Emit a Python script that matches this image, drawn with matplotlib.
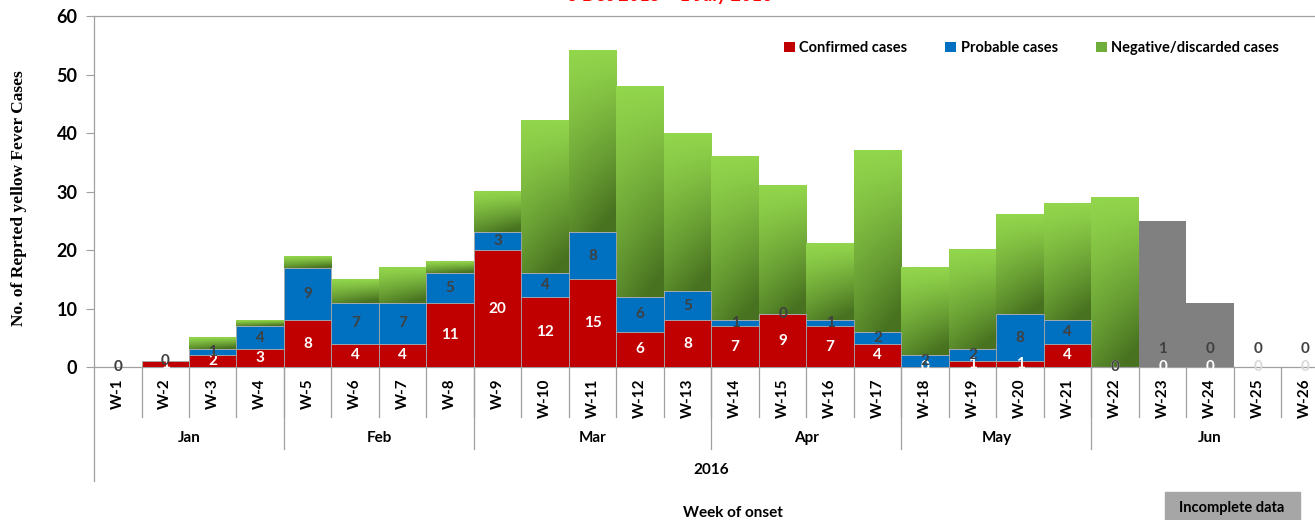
import matplotlib
matplotlib.use("Agg")
import matplotlib.pyplot as plt
import matplotlib.transforms as mtransforms
from matplotlib.patches import Patch, Rectangle
import numpy as np

# ---------------------------------------------------------
# Data
# ---------------------------------------------------------
weeks = [f"W-{i}" for i in range(1, 27)]
confirmed = [0, 1, 2, 3, 8, 4, 4, 11, 20, 12, 15, 6, 8, 7, 9, 7, 4, 0, 1, 1, 4, 0, 0, 0, 0, 0]
probable = [0, 0, 1, 4, 9, 7, 7, 5, 3, 4, 8, 6, 5, 1, 0, 1, 2, 2, 2, 8, 4, 0, 1, 0, 0, 0]
negative = [0, 0, 2, 1, 2, 4, 6, 2, 7, 26, 31, 36, 27, 28, 22, 13, 31, 15, 17, 17, 20, 29, 0, 0, 0, 0]
incomplete = [0] * 22 + [25, 11, 0, 0]   # grey "Incomplete data" bars

months = ["Jan", "Feb", "Mar", "Apr", "May", "Jun"]
weeks_per_month = [4, 4, 5, 4, 4, 5]
year_label = "2016"

title = "3 Dec 2015 \u2013 1 July 2016"

RED = "#C00000"
BLUE = "#0070C0"
GREY = "#808080"
GREEN_LIGHT = np.array([146, 214, 76]) / 255
GREEN_DARK = np.array([72, 114, 32]) / 255
EDGE = "#A6A6A6"
AXIS = "#A0A0A0"

plt.rcParams["font.family"] = ["Lato", "DejaVu Sans"]
plt.rcParams["font.weight"] = "bold"


def gradient_fill(ax, patch):
    # light green top-left -> dark green bottom-right, like the Excel fill
    x, y = patch.get_x(), patch.get_y()
    w, h = patch.get_width(), patch.get_height()
    if h <= 0:
        return
    v = np.linspace(0, 1, 120)[:, None]
    u = np.linspace(0, 1, 30)[None, :]
    t = np.clip(0.75 * v ** 1.2 + 0.4 * u * v, 0, 1)
    img = GREEN_LIGHT[None, None, :] * (1 - t[..., None]) + GREEN_DARK[None, None, :] * t[..., None]
    ax.imshow(img, extent=[x, x + w, y, y + h], origin="upper",
              aspect="auto", zorder=2, interpolation="bilinear")


fig = plt.figure(figsize=(13.15, 5.2), dpi=100)
ax = fig.add_axes([0.0715, 0.2942, 0.939, 0.675])

x = np.arange(len(weeks))
conf = np.array(confirmed)
prob = np.array(probable)
neg = np.array(negative)
inc = np.array(incomplete)

ax.bar(x, conf, width=1.0, color=RED, edgecolor=EDGE, linewidth=0.6, zorder=3)
ax.bar(x, prob, width=1.0, bottom=conf, color=BLUE, edgecolor=EDGE, linewidth=0.6, zorder=3)
green = ax.bar(x, neg, width=1.0, bottom=conf + prob, color="none", edgecolor="none", zorder=2)
for p in green:
    gradient_fill(ax, p)
ax.bar(x, inc, width=1.0, color=GREY, edgecolor="none", zorder=4)

# data labels
for i in range(len(weeks)):
    no_bar = (conf[i] + prob[i] + neg[i] + inc[i]) == 0
    c_col = "#D9D9D9" if no_bar else "white"
    late = inc[i] > 0 or (no_bar and i > 20)
    c_y = conf[i] / 2 if conf[i] > 0 else 0
    ax.text(i, c_y, str(conf[i]), ha="center", va="center", color=c_col,
            fontsize=11, fontweight="bold", zorder=6)
    p_y = 3 if late else conf[i] + prob[i] / 2
    ax.text(i, p_y, str(prob[i]), ha="center", va="center", color="#404040",
            fontsize=11, fontweight="bold", zorder=7)

ax.set_xlim(-0.5, len(weeks) - 0.5)
ax.set_ylim(0, 60)
ax.set_yticks(range(0, 61, 10))
ax.tick_params(axis="y", labelsize=13, length=6, color=AXIS, width=0.8, pad=6)
for lbl in ax.get_yticklabels():
    lbl.set_fontweight("bold")
ax.set_xticks(x)
ax.set_xticklabels(weeks, rotation=90, fontsize=11, fontweight="bold")
ax.tick_params(axis="x", length=0, pad=8)

for side in ["left", "bottom", "top"]:
    ax.spines[side].set_color(AXIS)
    ax.spines[side].set_linewidth(0.9)
ax.spines["right"].set_visible(False)

# multi-level category axis
trans = mtransforms.blended_transform_factory(ax.transData, ax.transAxes)
for b in x[:-1] + 0.5:
    ax.plot([b, b], [0, -0.1425], transform=trans, clip_on=False, color=AXIS, lw=0.9)
edges = np.cumsum([0] + weeks_per_month) - 0.5
for b in edges[1:-1]:
    ax.plot([b, b], [0, -0.234], transform=trans, clip_on=False, color=AXIS, lw=0.9)
ax.plot([-0.5, -0.5], [0, -0.325], transform=trans, clip_on=False, color=AXIS, lw=0.9)
for m, lo, hi in zip(months, edges[:-1], edges[1:]):
    ax.text((lo + hi) / 2, -0.202, m, transform=trans, ha="center", va="center",
            fontsize=11, fontweight="bold")
ax.text((edges[0] + edges[-1]) / 2, -0.293, year_label, transform=trans,
        ha="center", va="center", fontsize=11, fontweight="bold")

ax.set_ylabel("No. of Reprted yellow Fever Cases", family=["Liberation Serif"],
              fontsize=12.5, fontweight="bold")
ax.yaxis.set_label_coords(-0.054, 0.48)

fig.text(733 / 1315, 1 - 513 / 520, "Week of onset", ha="center", va="center",
         fontsize=11, fontweight="bold")
fig.text(670 / 1315, 1 - 1 / 520, title, ha="center", va="baseline",
         color="red", fontsize=13, fontweight="bold")

# "Incomplete data" key box
fig.patches.append(Rectangle((1165 / 1315, 0), 135 / 1315, 28 / 520,
                             transform=fig.transFigure, color="#A6A6A6", zorder=1))
fig.text(1232 / 1315, 1 - 508 / 520, "Incomplete data", ha="center", va="center",
         fontsize=10.5, fontweight="bold", zorder=2)

handles = [Patch(facecolor=RED, label="Confirmed cases"),
           Patch(facecolor=BLUE, label="Probable cases"),
           Patch(facecolor="#6FAE3A", label="Negative/discarded cases")]
fig.legend(handles=handles, ncol=3, loc="upper right", frameon=False,
           bbox_to_anchor=(1292 / 1315, 1 - 28 / 520),
           handlelength=0.75, handleheight=0.75, handletextpad=0.3,
           columnspacing=2.6, prop={"weight": "bold", "size": 10.5})

fig.savefig("out.png", dpi=100)
